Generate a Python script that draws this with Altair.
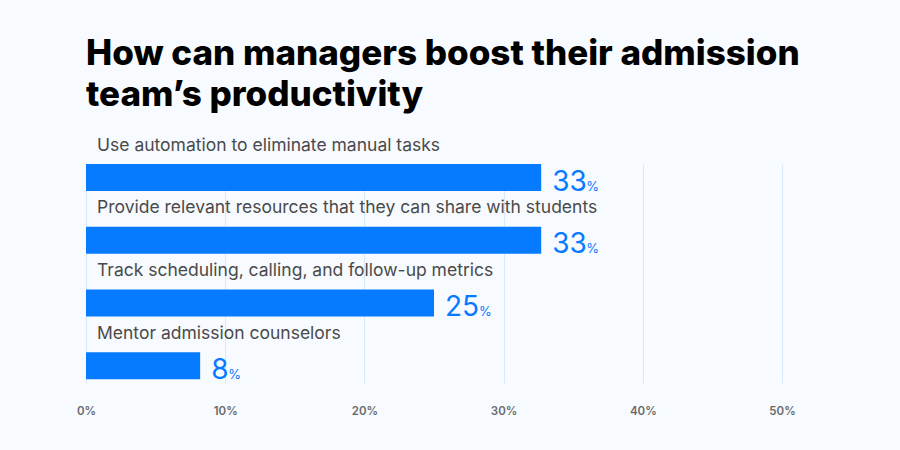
import altair as alt
import pandas as pd

categories = [
    "Use automation to eliminate manual tasks",
    "Provide relevant resources that they can share with students",
    "Track scheduling, calling, and follow-up metrics",
    "Mentor admission counselors",
]
values = [32.7, 32.7, 25, 8.2]
tick_values = [0, 10, 20, 30, 40, 50]

df = pd.DataFrame({"cat": categories, "val": values})
df["num"] = df["val"].round().astype(int).astype(str)
df["pct"] = "%"

BLUE = "#077bff"
FONT = "Inter"
W = 696
XMAX = 50
PX_PER_UNIT = W / XMAX

y_enc = alt.Y("cat:N", sort=categories, axis=None,
              scale=alt.Scale(paddingInner=0.568, paddingOuter=0.03, align=0))
x_scale = alt.Scale(domain=[0, XMAX], nice=False)
x_enc = alt.X("val:Q", scale=x_scale,
              axis=alt.Axis(values=tick_values, labelExpr="datum.value + '%'",
                            title=None, domain=False, ticks=False, labelFlush=False,
                            grid=True, gridColor="#d8e8fa", gridWidth=1,
                            labelFont=FONT, labelFontSize=11.5, labelFontWeight=600,
                            labelColor="#6a6a6a", labelPadding=22))

bars = alt.Chart(df).mark_bar(color=BLUE).encode(x=x_enc, y=y_enc)

names = alt.Chart(df).mark_text(
    align="left", baseline="middle", dx=11, dy=-32,
    font=FONT, fontSize=17.5, color="#4a4a4a"
).encode(x=alt.value(0), y=y_enc, text="cat:N")

nums = alt.Chart(df).mark_text(
    align="left", baseline="alphabetic", dx=11, dy=13,
    font=FONT, fontSize=28, fontWeight=400, color=BLUE
).encode(x="val:Q", y=y_enc, text="num:N")

pcts = alt.Chart(df).transform_calculate(
    pos=f"datum.val + (11 + length(datum.num) * 17) / {PX_PER_UNIT}"
).mark_text(
    align="left", baseline="alphabetic", dy=13,
    font=FONT, fontSize=13, fontWeight=400, color=BLUE
).encode(x=alt.X("pos:Q", scale=x_scale), y=y_enc, text="pct:N")

chart = alt.layer(bars, names, nums, pcts).properties(
    width=W, height=219,
    title=alt.TitleParams(
        ["How can managers boost their admission", "team\u2019s productivity"],
        anchor="start", frame="group", font=FONT, fontSize=35, fontWeight=800,
        color="#000000", lineHeight=41, offset=24,
    ),
    background="#f7fafe",
    padding={"left": 86, "top": 164, "right": 118, "bottom": 67},
    autosize=alt.AutoSizeParams(type="none"),
).configure_view(stroke=None)

chart.save("out.html", embed_options={"renderer": "svg", "actions": False})
